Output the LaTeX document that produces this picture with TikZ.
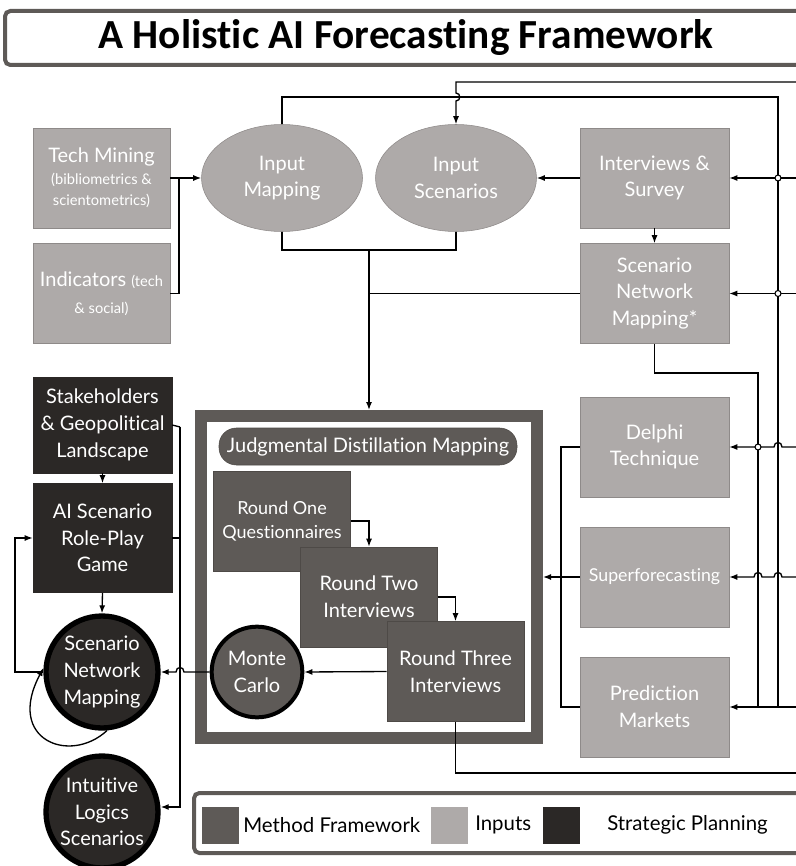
\documentclass[tikz,border=0pt]{standalone}
\usepackage{fontspec}
\setmainfont[Ligatures=NoCommon]{Lato}
\newfontfamily\titlefont[Ligatures=NoCommon]{Carlito}
\usetikzlibrary{arrows.meta,shapes.geometric}

\definecolor{inputgray}{RGB}{174,170,169}
\definecolor{inputedge}{RGB}{142,138,137}
\definecolor{methodgray}{RGB}{94,90,87}
\definecolor{methodedge}{RGB}{78,74,71}
\definecolor{plandark}{RGB}{43,40,38}

\tikzset{
  bigtext/.style={font=\fontsize{15}{20}\selectfont},
  inputbox/.style={draw=inputedge, fill=inputgray, text=white, align=center, inner sep=0pt, bigtext},
  inputoval/.style={ellipse, draw=inputedge, fill=inputgray, text=white, align=center, inner sep=0pt, minimum width=120.75pt, minimum height=80.25pt, bigtext},
  methodbox/.style={draw=methodedge, fill=methodgray, text=white, align=center, inner sep=0pt, minimum width=103pt, minimum height=75pt, bigtext},
  planbox/.style={draw=plandark, fill=plandark, text=white, align=center, inner sep=0pt, minimum width=104.25pt, bigtext},
  plancircle/.style={circle, draw=black, line width=4pt, fill=plandark, text=white, align=center, inner sep=0pt, minimum size=84pt, bigtext},
  swatch/.style={inner sep=0pt, minimum size=27.75pt},
  line/.style={draw=black, line width=1pt},
  arr/.style={line, -{Latex[length=6pt,width=4.5pt]}},
  junction/.style={draw=black, line width=0.8pt, fill=white}
}

\begin{document}
\begin{tikzpicture}[x=0.75pt,y=0.75pt,yscale=-1,xscale=1]
\useasboundingbox (0,0) rectangle (795,866);

% Title
\draw [draw=methodgray, line width=3pt, fill=white, rounded corners=4pt] (5,11) rectangle (805,65);
\node (title) at (406,38) {\titlefont\fontsize{31}{35}\selectfont\bfseries A Holistic AI Forecasting Framework};

% Inputs, left
\node [inputbox, minimum width=102.75pt, minimum height=75pt] (tm) at (101.5,178) {Tech Mining\\[-4pt]{\fontsize{11}{15}\selectfont (bibliometrics \&}\\[-4pt]{\fontsize{11}{15}\selectfont scientometrics)}};
\node [inputbox, minimum width=102.75pt, minimum height=75pt] (ind) at (101.5,293.5) {Indicators {\fontsize{11}{15}\selectfont (tech}\\{\fontsize{11}{15}\selectfont \& social)}};

% Inputs, ovals
\node [inputoval] (im) at (282,178) {Input\\Mapping};
\node [inputoval] (is) at (456,178) {Input\\Scenarios};

% Inputs, right
\node [inputbox, minimum width=111.75pt, minimum height=75pt] (iv) at (654.5,178) {Interviews \&\\Survey};
\node [inputbox, minimum width=111.75pt, minimum height=75pt] (snm) at (654.5,293.5) {Scenario\\Network\\Mapping*};
\node [inputbox, minimum width=111.75pt, minimum height=75pt] (dp) at (654.5,447) {Delphi\\Technique};
\node [inputbox, minimum width=111.75pt, minimum height=75pt, font=\fontsize{13.3}{16}\selectfont] (sf) at (654.5,577) {Superforecasting};
\node [inputbox, minimum width=111.75pt, minimum height=75pt] (pm) at (654.5,707) {Prediction\\Markets};

% Method framework
\node [draw=methodgray, line width=9pt, fill=white, inner sep=0pt, minimum width=252pt, minimum height=241.5pt] (jdm) at (369,577) {};
\node [methodbox, rounded corners=13pt, minimum width=223.5pt, minimum height=27.75pt, font=\fontsize{15}{18}\selectfont] (jdmt) at (368,446.5) {Judgmental Distillation Mapping};
\node [methodbox, font=\fontsize{13.5}{18}\selectfont] (r1) at (282,521) {Round One\\Questionnaires};
\node [methodbox] (r2) at (369,597) {Round Two\\Interviews};
\node [methodbox] (r3) at (455.5,671.5) {Round Three\\Interviews};
\node [circle, draw=black, line width=3pt, fill=methodgray, text=white, align=center, inner sep=0pt, minimum size=68pt, bigtext] (mc) at (257,672) {Monte\\Carlo};

% Strategic planning
\node [planbox, minimum height=72pt] (sh) at (102.5,425) {Stakeholders\\\& Geopolitical\\Landscape};
\node [planbox, minimum height=81.75pt] (ai) at (102.5,538) {AI Scenario\\Role-Play\\Game};
\node [plancircle] (snmc) at (102,672) {Scenario\\Network\\Mapping};
\node [plancircle] (il) at (102,812) {Intuitive\\Logics\\Scenarios};

% Coordinates
\coordinate (tmj) at (179,178);
\coordinate (mid) at (369,250);
\coordinate (bus) at (778,97);
\coordinate (busend) at (778,707);
\coordinate (bus2) at (758,373);
\coordinate (bus2end) at (758,707);
\coordinate (lbus) at (561,446);
\coordinate (lbusend) at (561,707);
\coordinate (sbus) at (180,427);
\coordinate (sbusend) at (180,807);

%Straight Lines, inputs
\draw [arr] (tm.east) -- (im.west);
\draw [line] (ind.east) -| (tmj);
\draw [arr] (iv.west) -- (is.east);
\draw [arr] (iv.south) -- (snm.north);
\draw [line] (im.north) |- (bus) -- (busend);
\draw [arr] (805,82) -- (456,82) -- (456,93) .. controls (461,93) and (461,101) .. (456,101) -- (is.north);
\draw [line] (im.south) |- (mid);
\draw [line] (is.south) |- (mid);
\draw [arr] (mid) -- (jdm.north);
\draw [line] (snm.west) -- (369,293.5);
\draw [line] (snm.south) |- (bus2) -- (bus2end);

%Straight Lines, right feeds
\draw [arr] (805,178) -- (iv.east);
\draw [arr] (805,293.5) -- (snm.east);
\draw [arr] (805,447) -- (782,447) .. controls (782,441) and (774,441) .. (774,447) -- (dp.east);
\draw [arr] (805,577) -- (782,577) .. controls (782,571) and (774,571) .. (774,577) -- (762,577) .. controls (762,571) and (754,571) .. (754,577) -- (sf.east);
\draw [arr] (805,707) -- (pm.east);
\draw [junction] (778,178) circle [radius=3];
\draw [junction] (778,293.5) circle [radius=3];
\draw [junction] (758,447) circle [radius=3];

%Straight Lines, into the framework
\draw [line] (dp.west) -| (lbusend) -- (pm.west);
\draw [arr] (sf.west) -- (jdm.east);

%Straight Lines, rounds
\draw [arr] (r1.east) -| (r2.north);
\draw [arr] (r2.east) -| (r3.north);
\draw [arr] (r3.west) -- (mc.east);
\draw [line] (r3.south) |- (805,773);
\draw [arr] (mc.west) -- (184,672) .. controls (184,666) and (176,666) .. (176,672) -- (snmc.east);

%Straight Lines, strategic planning
\draw [arr] (sh.south) -- (ai.north);
\draw [arr] (ai.south) -- (snmc.north);
\draw [line] (sh.east) -- (sbus);
\draw [line] (ai.east) -- (180,538);
\draw [arr] (sbus) -- (sbusend) -- (il.east |- sbusend);
\draw [arr] (snmc.west) -- (15,672) |- (ai.west);
\draw [arr] (snmc.275) .. controls (70,765) and (5,740) .. (snmc.176);

% Legend
\draw [draw=methodgray, line width=3pt, fill=white, rounded corners=4pt] (194,793) rectangle (805,853);
\node [swatch, fill=methodgray] (lgm) at (220.5,825) {};
\node [anchor=west, inner sep=0pt, font=\fontsize{15.3}{20}\selectfont] (lgmt) at (243,825) {Method Framework};
\node [swatch, fill=inputgray] (lgi) at (449.5,825) {};
\node [anchor=west, inner sep=0pt, font=\fontsize{15.3}{20}\selectfont] (lgit) at (475,825) {Inputs};
\node [swatch, fill=plandark] (lgp) at (561.5,825) {};
\node [anchor=west, inner sep=0pt, font=\fontsize{15.3}{20}\selectfont] (lgpt) at (607,825) {Strategic Planning};
\end{tikzpicture}
\end{document}
